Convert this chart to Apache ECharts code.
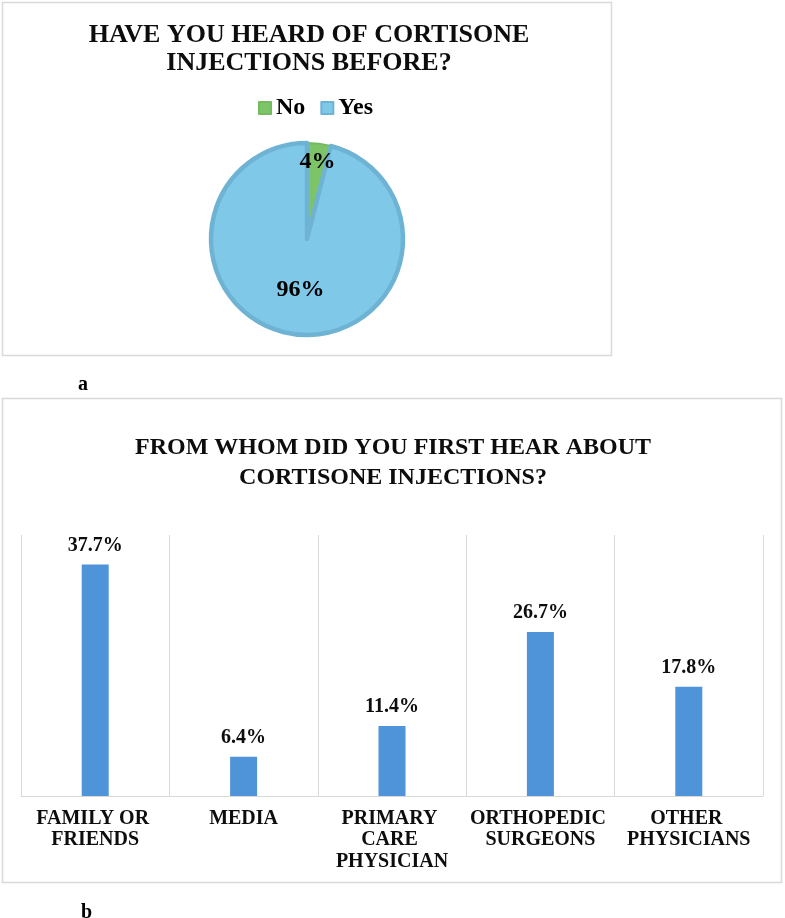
<!DOCTYPE HTML>
<html>
	<head>
		<meta http-equiv="Content-type" content="text/html; charset=UTF-8" />
		<script type="text/javascript" src="https://cdn.jsdelivr.net/npm/echarts@6/dist/echarts.min.js"></script>
		<style>
			html, body { margin: 0; padding: 0; background: #fff; }
		</style>
		<script type="text/javascript">
			// a) have you heard of cortisone injections
			var pieNames = ['No', 'Yes'];
			var pieValues = [4, 96];
			// b) from whom did you first hear about them
			var barCategories = ['FAMILY OR FRIENDS', 'MEDIA', 'PRIMARY CARE PHYSICIAN', 'ORTHOPEDIC SURGEONS', 'OTHER PHYSICIANS'];
			var barValues = [37.7, 6.4, 11.4, 26.7, 17.8];

			var serif = "'Liberation Serif', 'Times New Roman', serif";
			var pieFill = ['#7DC468', '#7FC8E8'];
			var pieEdge = ['#74BA60', '#6FB3D4'];

			var pieData = pieNames.map(function (n, i) {
				return {
					name: n,
					value: pieValues[i],
					itemStyle: { color: pieFill[i], borderColor: pieEdge[i], borderWidth: i == 0 ? 2 : 4.5 }
				};
			});

			var option = {
				animation: false,
				backgroundColor: '#fff',
				title: [{
					text: 'HAVE YOU HEARD OF CORTISONE\nINJECTIONS BEFORE?',
					left: 304, top: 16, textAlign: 'center',
					textStyle: { fontFamily: serif, fontWeight: 'bold', fontSize: 26, lineHeight: 28, color: '#0d0d0d' }
				}, {
					text: 'FROM WHOM DID YOU FIRST HEAR ABOUT\nCORTISONE INJECTIONS?',
					left: 388, top: 428, textAlign: 'center',
					textStyle: { fontFamily: serif, fontWeight: 'bold', fontSize: 24, lineHeight: 30, color: '#0d0d0d' }
				}, {
					text: 'a', left: 73, top: 370,
					textStyle: { fontFamily: serif, fontWeight: 'bold', fontSize: 20, color: '#000' }
				}, {
					text: 'b', left: 76, top: 898,
					textStyle: { fontFamily: serif, fontWeight: 'bold', fontSize: 20, color: '#000' }
				}],
				legend: {
					data: pieNames,
					left: 253, top: 91,
					icon: 'rect', itemWidth: 12, itemHeight: 12, itemGap: 15,
					textStyle: { fontFamily: serif, fontWeight: 'bold', fontSize: 24, color: '#000', lineHeight: 24 }
				},
				grid: { left: 21, right: 22, top: 535, bottom: 122 },
				xAxis: {
					type: 'category',
					data: barCategories,
					axisLine: { lineStyle: { color: '#D9D9D9' } },
					axisTick: { show: false },
					splitLine: { show: true, lineStyle: { color: '#D9D9D9' } },
					axisLabel: {
						interval: 0, margin: 12, width: 142, overflow: 'break',
						fontFamily: serif, fontWeight: 'bold', fontSize: 20, lineHeight: 21.5, color: '#0d0d0d'
					}
				},
				yAxis: { type: 'value', min: 0, max: 42.5, show: false },
				series: [{
					type: 'pie',
					center: [307, 239],
					radius: 96,
					startAngle: 90,
					legendHoverLink: false,
					label: {
						position: 'inside',
						formatter: '{c}%',
						fontFamily: serif, fontWeight: 'bold', fontSize: 24, color: '#000'
					},
					labelLine: { show: false },
					// the small slice's label sits near the rim in the original
					labelLayout: function (p) {
						return p.dataIndex == 0 ? { dx: 4, dy: -27 } : { dx: 0, dy: 0 };
					},
					data: pieData
				}, {
					type: 'bar',
					data: barValues,
					barWidth: 27,
					itemStyle: { color: '#4F94D9' },
					label: {
						show: true, position: 'top', distance: 9,
						formatter: '{c}%',
						fontFamily: serif, fontWeight: 'bold', fontSize: 20, color: '#0d0d0d'
					}
				}],
				graphic: [{
					type: 'rect', silent: true,
					shape: { x: 2.5, y: 2.5, width: 609, height: 353 },
					style: { fill: 'none', stroke: '#D9D9D9', lineWidth: 1.5 }
				}, {
					type: 'rect', silent: true,
					shape: { x: 2.5, y: 398.5, width: 779, height: 484 },
					style: { fill: 'none', stroke: '#D9D9D9', lineWidth: 1.5 }
				}]
			};

			window.onload = function () {
				var myChart = echarts.init(document.getElementById('chart'), null, { renderer: 'canvas' });
				myChart.setOption(option);
			};
		</script>
	</head>
	<body>
		<div id="chart" style="width: 785px;height:918px;"></div>
	</body>
</html>
